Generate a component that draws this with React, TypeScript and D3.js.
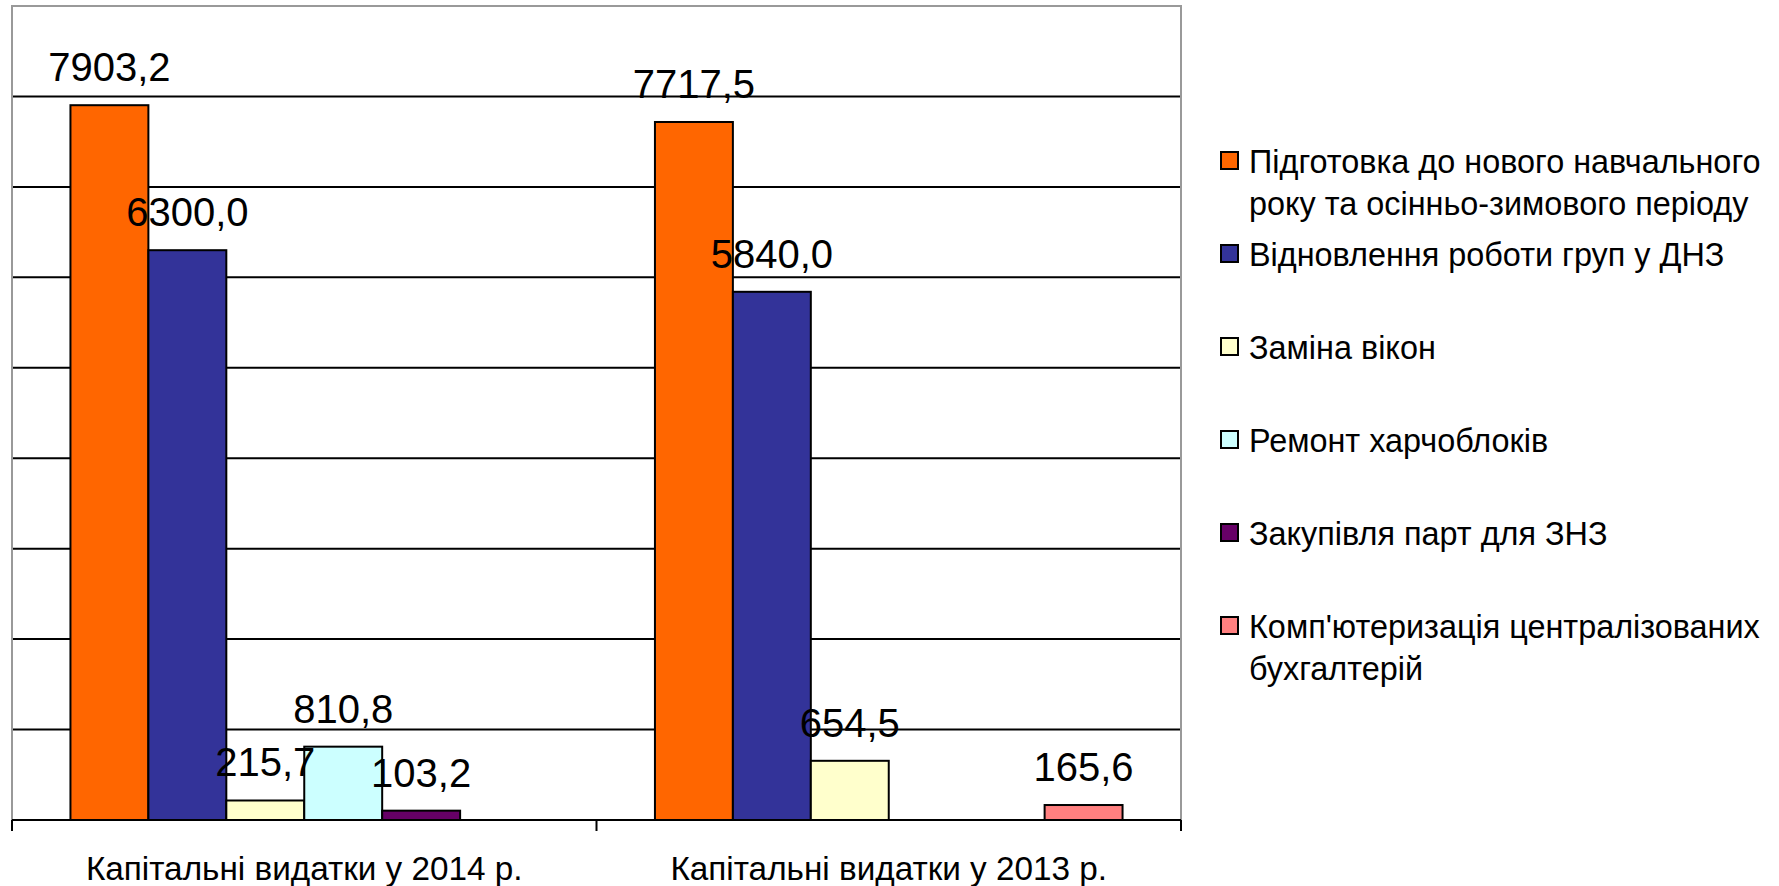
import React, { useEffect, useRef } from "react";
import * as d3 from "d3";

const categories = ["Капітальні видатки у 2014 р.", "Капітальні видатки у 2013 р."];

const seriesNames = [
  ["Підготовка до нового навчального", "року та осінньо-зимового періоду"],
  ["Відновлення роботи груп у ДНЗ"],
  ["Заміна вікон"],
  ["Ремонт харчоблоків"],
  ["Закупівля парт для ЗНЗ"],
  ["Комп'ютеризація централізованих", "бухгалтерій"],
];

const seriesColors = ["#FF6600", "#333399", "#FFFFCC", "#CCFFFF", "#660066", "#FF8080"];

// values per series: [2014, 2013], null = no bar
const values2014 = [7903.2, 6300.0, 215.7, 810.8, 103.2, null];
const values2013 = [7717.5, 5840.0, 654.5, null, null, 165.6];

const yTicks = [1000, 2000, 3000, 4000, 5000, 6000, 7000, 8000];

export default function App() {
  const ref = useRef<SVGSVGElement | null>(null);

  useEffect(() => {
    const svg = d3.select(ref.current);
    svg.selectAll("*").remove();

    const font = "'Liberation Sans', Arial, sans-serif";
    const left = 12, right = 1181, top = 6, bottom = 820;

    const x0 = d3.scaleBand<string>().domain(categories).range([left, right]).paddingInner(0).paddingOuter(0);
    const seriesIdx = seriesNames.map((_, i) => String(i));
    const x1 = d3.scaleBand<string>().domain(seriesIdx).range([0, x0.bandwidth()]).paddingInner(0).paddingOuter(0.75);
    const y = d3.scaleLinear().domain([0, 9000]).range([bottom, top]);

    const table = [values2014, values2013];
    const fmt = (v: number) => d3.format(".1f")(v).replace(".", ",");

    // gridlines
    svg.append("g")
      .selectAll("line")
      .data(yTicks)
      .join("line")
      .attr("x1", left)
      .attr("x2", right)
      .attr("y1", (d) => y(d))
      .attr("y2", (d) => y(d))
      .attr("stroke", "#000")
      .attr("stroke-width", 2);

    // bars
    const groups = svg.append("g")
      .selectAll("g")
      .data(categories)
      .join("g")
      .attr("transform", (c) => "translate(" + x0(c) + ",0)");

    groups.each(function (c, ci) {
      const rows = table[ci]
        .map((v, si) => ({ v, si }))
        .filter((d) => d.v !== null) as { v: number; si: number }[];
      const g = d3.select(this);
      g.selectAll("rect")
        .data(rows)
        .join("rect")
        .attr("x", (d) => x1(String(d.si))!)
        .attr("y", (d) => y(d.v))
        .attr("width", x1.bandwidth())
        .attr("height", (d) => y(0) - y(d.v))
        .attr("fill", (d) => seriesColors[d.si])
        .attr("stroke", "#000")
        .attr("stroke-width", 2);
    });

    // labels on top so they overlap bars like the original
    groups.each(function (c, ci) {
      const rows = table[ci]
        .map((v, si) => ({ v, si }))
        .filter((d) => d.v !== null) as { v: number; si: number }[];
      d3.select(this)
        .selectAll("text")
        .data(rows)
        .join("text")
        .attr("x", (d) => x1(String(d.si))! + x1.bandwidth() / 2)
        .attr("y", (d) => y(d.v) - 24)
        .attr("text-anchor", "middle")
        .attr("font-family", font)
        .attr("font-size", 40)
        .attr("fill", "#000")
        .text((d) => fmt(d.v));
    });

    // plot border (grey)
    svg.append("path")
      .attr("d", `M${left},${bottom}V${top}H${right}V${bottom}`)
      .attr("fill", "none")
      .attr("stroke", "#999")
      .attr("stroke-width", 2);

    // x axis
    svg.append("line")
      .attr("x1", left).attr("x2", right)
      .attr("y1", bottom).attr("y2", bottom)
      .attr("stroke", "#000").attr("stroke-width", 2);

    const tickXs = [left, ...categories.map((c) => x0(c)! + x0.bandwidth())];
    svg.append("g")
      .selectAll("line")
      .data(tickXs)
      .join("line")
      .attr("x1", (d) => d).attr("x2", (d) => d)
      .attr("y1", bottom).attr("y2", bottom + 11)
      .attr("stroke", "#000").attr("stroke-width", 2);

    svg.append("g")
      .selectAll("text")
      .data(categories)
      .join("text")
      .attr("x", (c) => x0(c)! + x0.bandwidth() / 2)
      .attr("y", 880)
      .attr("text-anchor", "middle")
      .attr("font-family", font)
      .attr("font-size", 33.3)
      .text((c) => c);

    // legend
    const legend = svg.append("g").attr("transform", "translate(1220,161)");
    const item = legend.selectAll("g")
      .data(seriesNames)
      .join("g")
      .attr("transform", (_, i) => "translate(0," + i * 93 + ")");

    item.append("rect")
      .attr("x", 1).attr("y", -9)
      .attr("width", 17).attr("height", 17)
      .attr("fill", (_, i) => seriesColors[i])
      .attr("stroke", "#000")
      .attr("stroke-width", 2);

    item.each(function (lines) {
      d3.select(this)
        .selectAll("text")
        .data(lines)
        .join("text")
        .attr("x", 29)
        .attr("y", (_, j) => j * 42 + 12)
        .attr("font-family", font)
        .attr("font-size", 32.4)
        .attr("fill", "#000")
        .text((t) => t);
    });
  }, []);

  return (
    <svg
      ref={ref}
      width={1779}
      height={886}
      style={{ position: "absolute", left: 0, top: 0, background: "#fff" }}
    />
  );
}
